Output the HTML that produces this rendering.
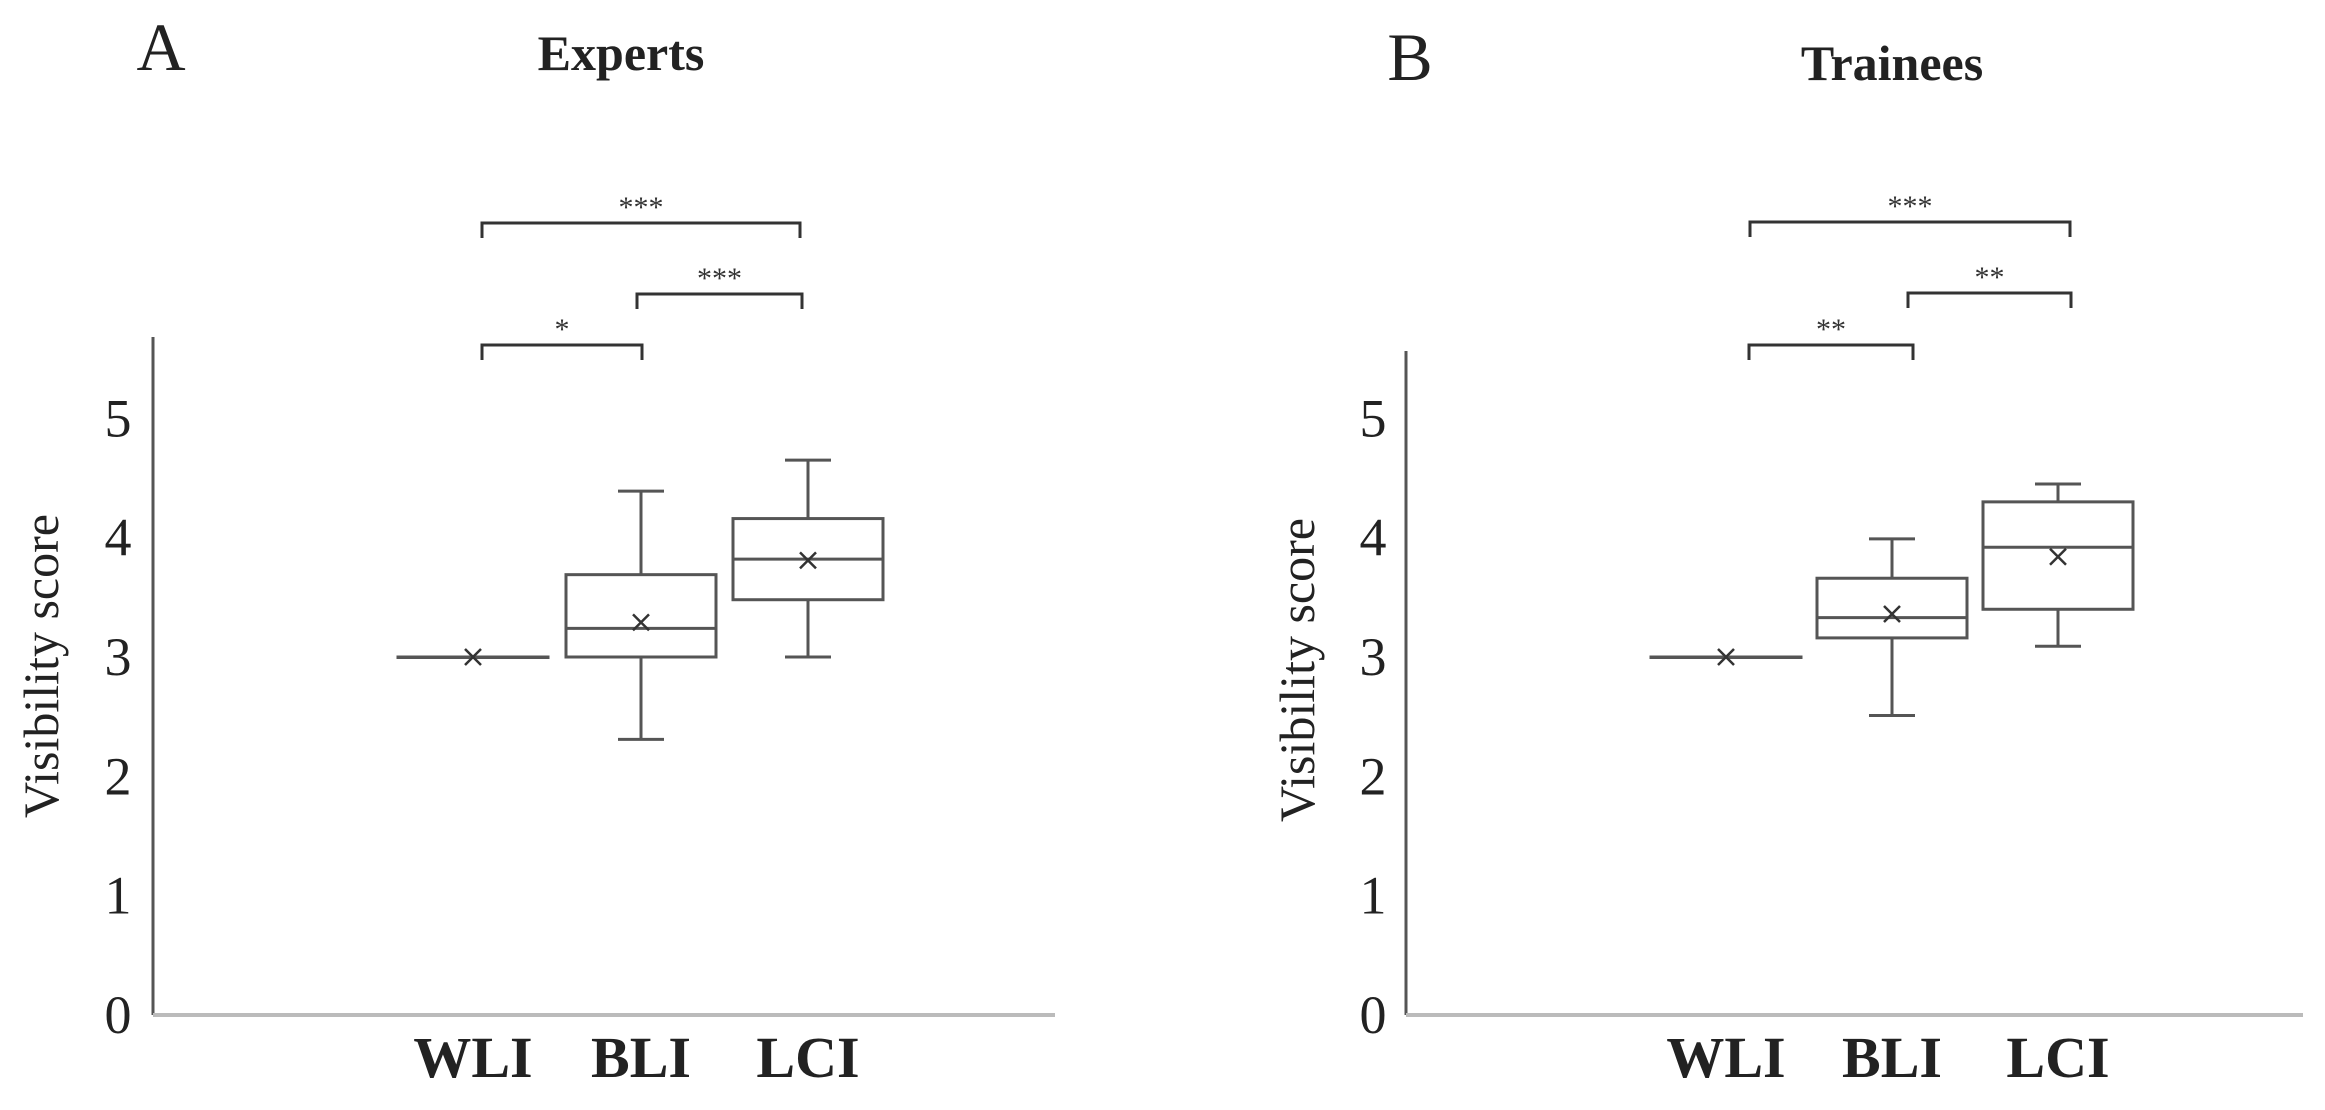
<!DOCTYPE html>
<html><head><meta charset="utf-8"><style>
html,body{margin:0;padding:0;background:#fff;}
svg{display:block;font-family:"Liberation Serif",serif;}
</style></head><body>
<svg id="chart" width="2325" height="1110" viewBox="0 0 2325 1110"></svg>
<script>
const categories = ["WLI","BLI","LCI"];
const yTicks = [0,1,2,3,4,5];
// Experts
const expMin = [3.0, 2.31, 3.0];
const expQ1 = [3.0, 3.0, 3.48];
const expMedian = [3.0, 3.24, 3.82];
const expQ3 = [3.0, 3.69, 4.16];
const expMax = [3.0, 4.39, 4.65];
const expMean = [3.0, 3.29, 3.81];
// Trainees
const trMin = [3.0, 2.51, 3.09];
const trQ1 = [3.0, 3.16, 3.40];
const trMedian = [3.0, 3.33, 3.92];
const trQ3 = [3.0, 3.66, 4.30];
const trMax = [3.0, 3.99, 4.45];
const trMean = [3.0, 3.36, 3.84];
const expSig = [["WLI","LCI","***"],["BLI","LCI","***"],["WLI","BLI","*"]];
const trSig = [["WLI","LCI","***"],["BLI","LCI","**"],["WLI","BLI","**"]];

const NS="http://www.w3.org/2000/svg";
const svg=document.getElementById('chart');
function mk(tag,attrs,parent){const e=document.createElementNS(NS,tag);for(const k in attrs)e.setAttribute(k,attrs[k]);(parent||svg).appendChild(e);return e;}

function panel(cfg){
  const g=mk('g',{});
  
  
  const y=v=>cfg.y0-(v/3)*(cfg.y0-cfg.y3);
  const x=i=>cfg.xc[i];
  const ya=mk('line',{x1:cfg.ax,y1:cfg.axTop,x2:cfg.ax,y2:cfg.y0,stroke:'#555','stroke-width':3},g);
  
  
  const xa=mk('line',{x1:cfg.ax,y1:cfg.y0,x2:cfg.axEnd,y2:cfg.y0,stroke:'#bbb','stroke-width':4},g);
  
  
  yTicks.forEach(t=>{
    const tx=mk('text',{x:cfg.tickX,y:y(t)+18,'text-anchor':'middle','font-size':54,fill:'#222'},g);
    tx.textContent=t;
    
    
  });
  categories.forEach((c,i)=>{
    const tx=mk('text',{x:x(i),y:1077,'text-anchor':'middle','font-size':58,'font-weight':'bold',fill:'#222'},g);
    tx.textContent=c;
    
    
  });
  const yt=mk('text',{x:0,y:0,'text-anchor':'middle','font-size':50,fill:'#222',transform:`translate(${cfg.ytX},${cfg.ytY}) rotate(-90)`},g);
  yt.textContent='Visibility score';
  
  
  const tt=mk('text',{x:cfg.titleX,y:cfg.titleY,'text-anchor':'middle','font-size':50,'font-weight':'bold',fill:'#222'},g);
  tt.textContent=cfg.title;
  
  
  const lt=mk('text',{x:cfg.letterX,y:cfg.letterY,'text-anchor':'middle','font-size':68,fill:'#222'},g);
  lt.textContent=cfg.letter;
  
  
  const hw=75, cw=23, st={stroke:'#555','stroke-width':3,fill:'none'};
  categories.forEach((c,i)=>{
    const bg=mk('g',{},g);
    
    
    const cx=x(i);
    mk('line',Object.assign({x1:cx,y1:y(cfg.max[i]),x2:cx,y2:y(cfg.q3[i])},st),bg);
    mk('line',Object.assign({x1:cx,y1:y(cfg.q1[i]),x2:cx,y2:y(cfg.min[i])},st),bg);
    mk('line',Object.assign({x1:cx-cw,y1:y(cfg.max[i]),x2:cx+cw,y2:y(cfg.max[i])},st),bg);
    mk('line',Object.assign({x1:cx-cw,y1:y(cfg.min[i]),x2:cx+cw,y2:y(cfg.min[i])},st),bg);
    const h=y(cfg.q1[i])-y(cfg.q3[i]);
    mk('rect',Object.assign({x:cx-hw,y:y(cfg.q3[i]),width:2*hw,height:Math.max(h,0.5)},st),bg);
    mk('line',Object.assign({x1:cx-hw,y1:y(cfg.median[i]),x2:cx+hw,y2:y(cfg.median[i])},st),bg);
    const my=y(cfg.mean[i]);
    mk('path',{d:`M${cx-8} ${my-8}L${cx+8} ${my+8}M${cx+8} ${my-8}L${cx-8} ${my+8}`,stroke:'#333','stroke-width':2.5},bg);
  });
  cfg.sig.forEach((s,k)=>{
    const a=x(categories.indexOf(s[0]))+cfg.bOff[k][0], b=x(categories.indexOf(s[1]))+cfg.bOff[k][1];
    const by=cfg.bY[k];
    const bk=mk('path',{d:`M${a} ${by+15}V${by}H${b}V${by+15}`,stroke:'#333','stroke-width':3,fill:'none'},g);
    
    
    const stx=mk('text',{x:(a+b)/2,y:by-6,'text-anchor':'middle','font-size':30,fill:'#333'},g);
    stx.textContent=s[2];
    
    
  });
}
panel({name:'experts-panel',title:'Experts',letter:'A',y0:1015,y3:657,ax:153,axTop:337,axEnd:1055,tickX:118,
  xc:[473,641,808],ytX:58,ytY:666,titleX:621,titleY:70,letterX:161,letterY:70,
  min:expMin,q1:expQ1,median:expMedian,q3:expQ3,max:expMax,mean:expMean,sig:expSig,
  bY:[223,294,345],bOff:[[9,-8],[-4,-6],[9,1]]});
panel({name:'trainees-panel',title:'Trainees',letter:'B',y0:1015,y3:657,ax:1406,axTop:351,axEnd:2303,tickX:1373,
  xc:[1726,1892,2058],ytX:1314,ytY:670,titleX:1892,titleY:80,letterX:1410,letterY:80,
  min:trMin,q1:trQ1,median:trMedian,q3:trQ3,max:trMax,mean:trMean,sig:trSig,
  bY:[222,293,345],bOff:[[24,12],[16,13],[23,21]]});
</script>
</body></html>
